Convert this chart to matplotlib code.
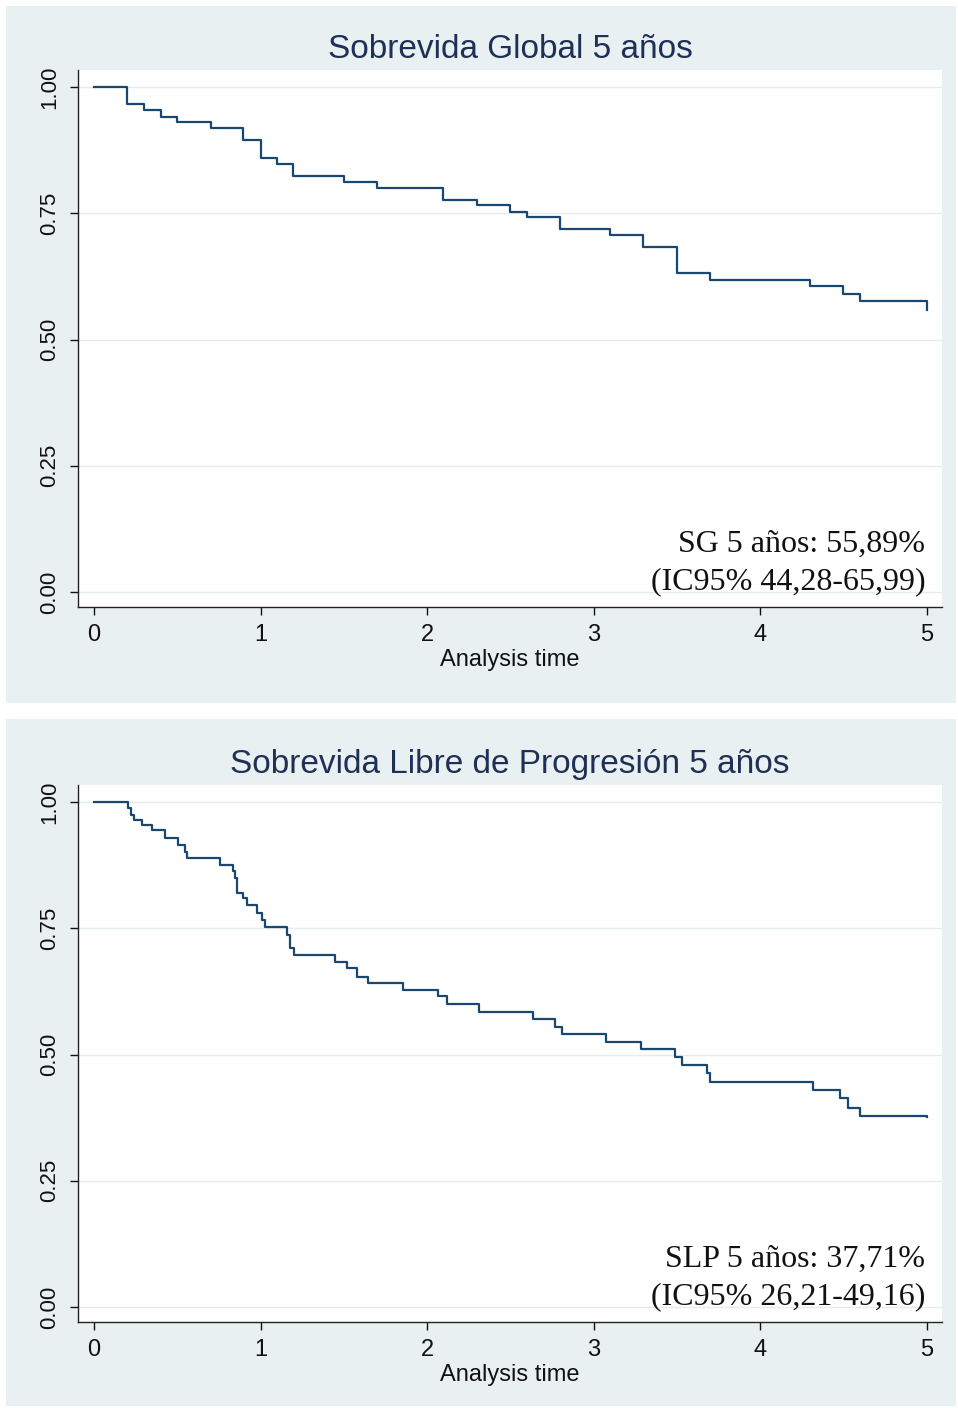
import matplotlib
matplotlib.use("Agg")
import matplotlib.pyplot as plt
from matplotlib.patches import Rectangle

# Kaplan-Meier step data (time in years, survival after the step)
sg_time = [0, 0.198, 0.30, 0.40, 0.50, 0.70, 0.895, 1.00, 1.10, 1.195, 1.50, 1.70,
           2.097, 2.297, 2.497, 2.597, 2.80, 3.097, 3.297, 3.497, 3.697, 4.30,
           4.497, 4.598, 5.0]
sg_surv = [1.0, 0.966, 0.954, 0.941, 0.930, 0.918, 0.895, 0.859, 0.848, 0.824, 0.812,
           0.800, 0.777, 0.766, 0.753, 0.742, 0.718, 0.707, 0.683, 0.631, 0.618, 0.605,
           0.590, 0.576, 0.559]

slp_time = [0, 0.202, 0.222, 0.240, 0.286, 0.346, 0.426, 0.506, 0.546, 0.556, 0.756,
            0.832, 0.846, 0.856, 0.896, 0.916, 0.976, 1.006, 1.026, 1.160, 1.176, 1.200,
            1.447, 1.517, 1.577, 1.647, 1.857, 2.067, 2.120, 2.313, 2.637, 2.767, 2.807,
            3.071, 3.281, 3.487, 3.527, 3.677, 3.700, 4.318, 4.478, 4.528, 4.598, 5.0]
slp_surv = [1.0, 0.988, 0.975, 0.964, 0.954, 0.945, 0.929, 0.915, 0.902, 0.889, 0.875,
            0.864, 0.849, 0.820, 0.809, 0.796, 0.781, 0.766, 0.752, 0.737, 0.710, 0.697,
            0.684, 0.671, 0.654, 0.641, 0.628, 0.615, 0.600, 0.585, 0.570, 0.555, 0.541,
            0.525, 0.510, 0.496, 0.479, 0.463, 0.446, 0.430, 0.413, 0.395, 0.378, 0.377]

titles = ["Sobrevida Global 5 años", "Sobrevida Libre de Progresión 5 años"]
notes = [("SG 5 años: 55,89%", "(IC95% 44,28-65,99)"),
         ("SLP 5 años: 37,71%", "(IC95% 26,21-49,16)")]
x_ticks = [0, 1, 2, 3, 4, 5]
y_ticks = [0.0, 0.25, 0.5, 0.75, 1.0]
y_labels = ["0.00", "0.25", "0.50", "0.75", "1.00"]

W, H = 958, 1408
bg = "#e9f0f2"
navy = "#1a476f"
title_col = "#1e3056"
sans = ["Liberation Sans", "DejaVu Sans"]
serif = ["Liberation Serif", "DejaVu Serif"]

fig = plt.figure(figsize=(W / 100, H / 100), dpi=100)
fig.patch.set_facecolor("white")

# panel backgrounds (pixel boxes: x0, y0, x1, y1)
panels = [(6, 6, 956, 703), (6, 719, 956, 1406)]
for x0, y0, x1, y1 in panels:
    fig.add_artist(Rectangle((x0 / W, 1 - y1 / H), (x1 - x0) / W, (y1 - y0) / H,
                             transform=fig.transFigure, facecolor=bg,
                             edgecolor="none", zorder=-5))

# plot regions in pixels: left, top, right, bottom
regions = [(78, 70, 942, 607), (78, 785, 942, 1322)]
title_y = [50, 765]
curves = [(sg_time, sg_surv), (slp_time, slp_surv)]

for i, (l, t, r, b) in enumerate(regions):
    ax = fig.add_axes([l / W, 1 - b / H, (r - l) / W, (b - t) / H])
    ax.set_facecolor("white")
    tt, ss = curves[i]
    ax.step(tt, ss, where="post", color=navy, lw=1.6, zorder=3)
    ax.set_xlim(-0.096, 5.09)
    ax.set_ylim(-0.0297, 1.0337)
    ax.set_xticks(x_ticks)
    ax.set_yticks(y_ticks)
    ax.set_yticklabels(y_labels)
    for y in y_ticks:
        ax.axhline(y, color="#e4ecef", lw=1.0, zorder=1)
    for s in ["top", "right"]:
        ax.spines[s].set_visible(False)
    for s in ["left", "bottom"]:
        ax.spines[s].set_color("#222222")
        ax.spines[s].set_linewidth(1.0)
    ax.tick_params(axis="x", length=6, width=1, pad=6, labelsize=17, colors="#111111")
    ax.tick_params(axis="y", length=6, width=1, pad=7, labelsize=16, colors="#111111",
                   labelrotation=90)
    for lab in ax.get_xticklabels() + ax.get_yticklabels():
        lab.set_family(sans)
    for lab in ax.get_yticklabels():
        lab.set_va("center")
    ax.set_xlabel("Analysis time", fontsize=17, family=sans, color="#111111")
    ax.xaxis.set_label_coords(0.5, -0.0987)
    ax.xaxis.label.set_va("center")

    ax.text(4.99, 0.095, notes[i][0], ha="right", va="center", fontsize=23,
            family=serif, color="#111111")
    ax.text(4.99, 0.020, notes[i][1], ha="right", va="center", fontsize=23,
            family=serif, color="#111111")

    fig.text(((l + r) / 2) / W, 1 - title_y[i] / H, titles[i], ha="center",
             va="center", fontsize=24, family=sans, color=title_col)

fig.savefig("out.png", dpi=100)
